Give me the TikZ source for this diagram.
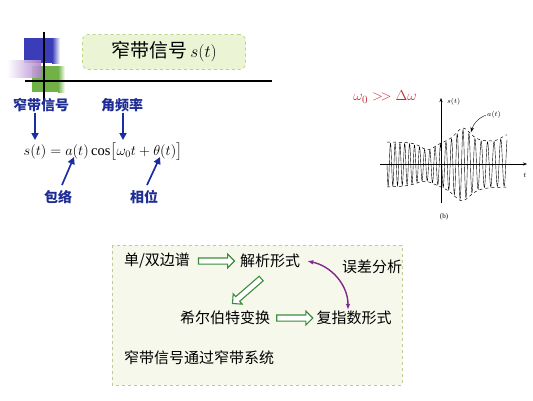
\documentclass[tikz,border=0pt]{standalone}
\usepackage{fontspec}
\usepackage{amsmath,amssymb}
\setmainfont{Liberation Serif}
\newfontfamily\cjk{Noto Sans CJK SC}
\usetikzlibrary{
  arrows.meta,
  positioning,
  shapes.arrows,
  calc
}
\definecolor{sqblue}{RGB}{58,60,184}
\definecolor{sqgreen}{RGB}{112,178,70}
\definecolor{sqpink}{RGB}{176,130,206}
\definecolor{labelblue}{RGB}{30,45,150}
\definecolor{arrowblue}{RGB}{25,45,165}
\definecolor{titlefill}{RGB}{236,244,214}
\definecolor{titleedge}{RGB}{190,212,130}
\definecolor{boxfill}{RGB}{246,248,236}
\definecolor{boxedge}{RGB}{196,200,150}
\definecolor{arrowgreen}{RGB}{60,140,60}
\definecolor{errpurple}{RGB}{130,40,140}
\definecolor{condred}{RGB}{200,40,55}
\tikzset{
  bluelabel/.style={font=\cjk\fontsize{14}{16}\selectfont\bfseries, text=labelblue, inner sep=1pt},
  bluearrow/.style={-{Triangle[length=7pt,width=7pt]}, draw=arrowblue, line width=1.7pt},
  boxtext/.style={font=\cjk\fontsize{15}{17}\selectfont, inner sep=1pt},
  hollowarrow/.style={single arrow, draw=arrowgreen, fill=white, line width=1.1pt,
    minimum height=36pt, inner sep=2.5pt, single arrow head extend=3.8pt},
  graphlabel/.style={font=\fontsize{7}{8}\selectfont, inner sep=1pt}
}

\begin{document}
\begin{tikzpicture}[x=1pt, y=-1pt, >=Stealth]
  \useasboundingbox (0,0) rectangle (533,400);

  % -- corner squares --
  \fill[sqblue] (24,38) rectangle (52,63);
  \shade[left color=sqblue, right color=white] (52,38) rectangle (60,63);
  \fill[sqgreen] (32,66) rectangle (58,92);
  \shade[left color=sqgreen, right color=white] (58,66) rectangle (65,92);
  \shade[left color=white, right color=sqpink, opacity=0.9] (7,60) rectangle (41,77);
  \draw[line width=1.3pt] (44,32) -- (44,104);
  \draw[line width=1.3pt] (25,81) -- (272,81);

  % -- title --
  \node[draw=titleedge, dashed, fill=titlefill, rounded corners=6pt, line width=0.8pt,
        minimum width=163pt, minimum height=35pt,
        font=\cjk\fontsize{19}{21}\selectfont] (title) at (164,52)
    {窄带信号\,$s(t)$};

  % -- formula and its parts --
  \node[font=\fontsize{14.5}{16}\selectfont, inner sep=1pt] (formula) at (103,152)
    {$s(t)=a(t)\cos\bigl[\omega_0 t+\theta(t)\bigr]$};
  \node[bluelabel] (narrow) at (41,105) {窄带信号};
  \node[bluelabel] (freq) at (122,105) {角频率};
  \node[bluelabel] (env) at (58,197) {包络};
  \node[bluelabel] (phase) at (144,197) {相位};
  \coordinate (stip) at (35,140);
  \coordinate (wtip) at (123,140);
  \coordinate (atip) at (74,157);
  \coordinate (thtip) at (160,157);
  \draw[bluearrow] (narrow.south -| stip) -- (stip);
  \draw[bluearrow] (freq.south -| wtip) -- (wtip);
  \draw[bluearrow] (62,185) -- (atip);
  \draw[bluearrow] (147,185) -- (thtip);

  % -- condition and waveform --
  \node[text=condred, font=\fontsize{15}{17}\selectfont] (cond) at (385,97)
    {$\omega_0>\mkern-3mu>\Delta\omega$};
  \coordinate (tstart) at (380,164);
  \coordinate (tend) at (527,164);
  \coordinate (sbot) at (441,203);
  \coordinate (stop) at (441,98);
  \draw[-{Stealth[length=4pt]}, thin] (tstart) -- (tend);
  \draw[-{Stealth[length=4pt]}, thin] (sbot) -- (stop);
  \node[graphlabel, anchor=west] (slab) at (446,102) {$s(t)$};
  \node[graphlabel] (tlab) at (525,175) {$t$};
  \node[graphlabel] (alab) at (494,115) {$a(t)$};
  \node[graphlabel] (blab) at (444,217) {(b)};
  \begin{scope}[declare function={
      bump(\u)=1/(1+min(\u*\u,60))/(1+min(\u*\u,60));
      up(\x)=142-14*bump((\x-463)/14)+8*bump((\x-428)/14)-7*bump((\x-507)/10);
      lo(\x)=187+14*bump((\x-462)/16)-6*bump((\x-425)/18);
      ph(\x)=78.3*(\x-387)-0.111*(\x-387)*(\x-387);}]
    \draw[dashed, line width=0.5pt] plot[domain=387:507, samples=80, smooth] (\x,{up(\x)});
    \draw[dashed, line width=0.5pt] plot[domain=387:507, samples=80, smooth] (\x,{lo(\x)});
    \draw[line width=0.4pt] plot[domain=387:507, samples=400]
      (\x,{(up(\x)+lo(\x))/2+0.96*(lo(\x)-up(\x))/2*sin(ph(\x))});
  \end{scope}
  \coordinate (envpt) at (471,132);
  \draw[->, thin] (alab.west) to[bend right=25] (envpt);

  % -- lower box --
  \draw[boxedge, dashed, fill=boxfill, line width=0.8pt] (112,245) rectangle (402,385);
  \node[boxtext] (spec) at (157,261) {单/双边谱};
  \node[boxtext] (analytic) at (270,261) {解析形式};
  \node[boxtext] (error) at (372,267) {误差分析};
  \node[boxtext] (hilbert) at (225,318) {希尔伯特变换};
  \node[boxtext] (complex) at (354,318) {复指数形式};
  \node[boxtext] (system) at (199,358) {窄带信号通过窄带系统};
  \node[hollowarrow] (a1) at ($(spec.east)!0.5!(analytic.west)$) {};
  \node[hollowarrow, rotate=221, minimum height=38pt] (a2) at (248,290) {};
  \node[hollowarrow] (a3) at ($(hilbert.east)!0.5!(complex.west)$) {};
  \draw[{Latex[length=6pt]}-{Latex[length=6pt]}, errpurple, line width=1.4pt]
    (analytic.east) ++(6,0) to[out=-12, in=90] (complex.north -| 348,0);

\end{tikzpicture}
\end{document}
